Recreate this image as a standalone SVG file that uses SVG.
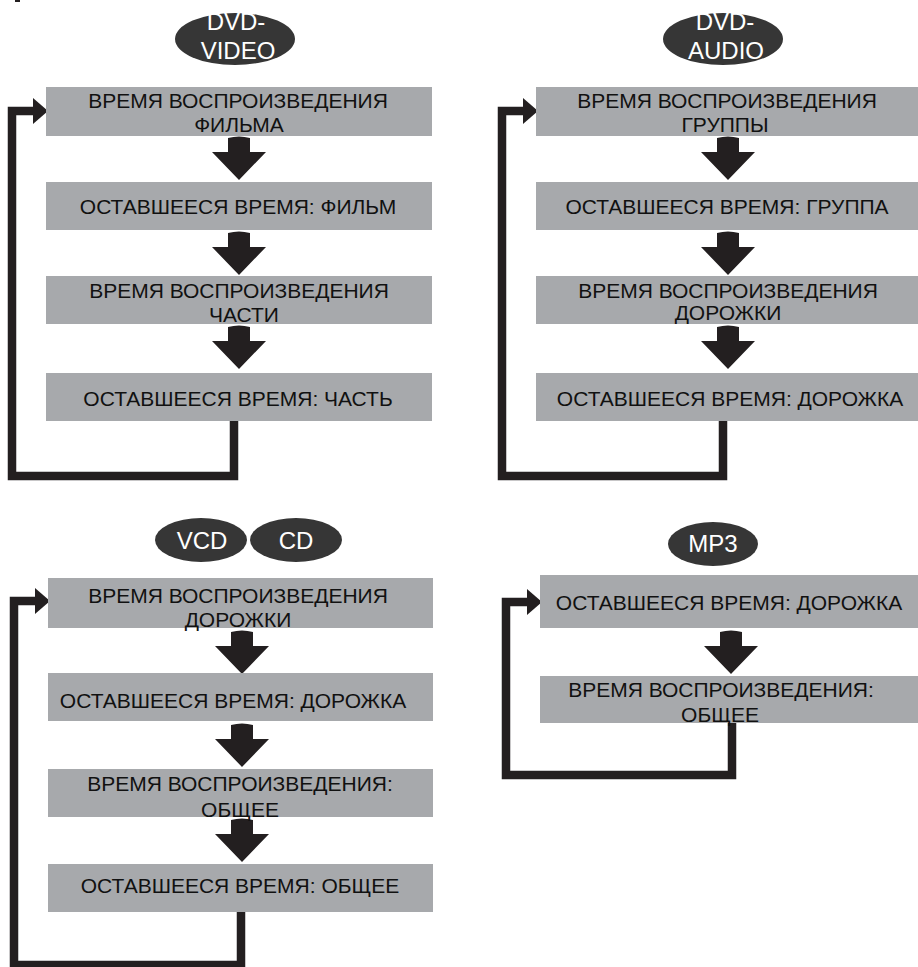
<svg xmlns="http://www.w3.org/2000/svg" width="918" height="967" viewBox="0 0 918 967">
<style>
.box{fill:#a7a9ac}
.t{font-family:"Liberation Sans",Arial,sans-serif;font-size:21px;fill:#111;text-anchor:middle}
.badge{fill:#363636}
.bt{font-family:"Liberation Sans",Arial,sans-serif;font-size:24px;fill:#fff;text-anchor:middle}
.loop{fill:none;stroke:#231f20;stroke-width:8.5;stroke-linejoin:miter}
.ah{fill:#231f20}
</style>
<defs>
<path id="down" d="M-11 0 Q0 -3 11 0 V14 H27 L0 42 L-27 14 H-11 Z"/>
</defs>
<rect x="0" y="0" width="918" height="967" fill="#fff"/>
<rect x="15" y="0" width="5" height="2" fill="#231f20"/>

<g id="connectors">
  <path class="loop" d="M234 421 V476 H12 V111 H35"/>
  <polygon class="ah" points="33,98 48,111 33,124"/>
  <path class="loop" d="M723 421 V476 H502 V111 H525"/>
  <polygon class="ah" points="523,98 538,111 523,124"/>
  <path class="loop" d="M241 912 V965 H14 V601 H37"/>
  <polygon class="ah" points="35,588 50,601 35,614"/>
  <path class="loop" d="M732 718 V775 H506 V602 H529"/>
  <polygon class="ah" points="527,589 542,602 527,615"/>
  <use href="#down" x="239" y="138" class="ah"/>
  <use href="#down" x="239" y="233" class="ah"/>
  <use href="#down" x="239" y="327" class="ah"/>
  <use href="#down" x="728" y="138" class="ah"/>
  <use href="#down" x="728" y="233" class="ah"/>
  <use href="#down" x="728" y="327" class="ah"/>
  <use href="#down" x="242" y="632" class="ah"/>
  <use href="#down" x="242" y="725" class="ah"/>
  <use href="#down" x="242" y="820" class="ah"/>
  <use href="#down" x="731" y="632" class="ah"/>
</g>

<g id="badge-dvd-video">
  <ellipse class="badge" cx="235" cy="39" rx="60" ry="26"/>
  <text class="bt" x="236" y="30">DVD-</text>
  <text class="bt" x="238" y="59">VIDEO</text>
</g>
<g id="badge-dvd-audio">
  <ellipse class="badge" cx="723" cy="39" rx="60" ry="26"/>
  <text class="bt" x="725" y="30">DVD-</text>
  <text class="bt" x="726" y="59">AUDIO</text>
</g>
<g id="badge-vcd">
  <ellipse class="badge" cx="201" cy="540" rx="46" ry="22"/>
  <text class="bt" x="202" y="549">VCD</text>
</g>
<g id="badge-cd">
  <ellipse class="badge" cx="296" cy="540" rx="46" ry="22"/>
  <text class="bt" x="296" y="549">CD</text>
</g>
<g id="badge-mp3">
  <ellipse class="badge" cx="713" cy="544" rx="45" ry="22"/>
  <text class="bt" x="713" y="552">MP3</text>
</g>

<g id="tl1"><rect class="box" x="46" y="87" width="386" height="49"/>
  <text class="t" x="238" y="108">ВРЕМЯ ВОСПРОИЗВЕДЕНИЯ</text>
  <text class="t" x="239" y="132">ФИЛЬМА</text></g>
<g id="tl2"><rect class="box" x="46" y="182" width="386" height="48"/>
  <text class="t" x="238" y="214">ОСТАВШЕЕСЯ ВРЕМЯ: ФИЛЬМ</text></g>
<g id="tl3"><rect class="box" x="46" y="276" width="386" height="48"/>
  <text class="t" x="239" y="298">ВРЕМЯ ВОСПРОИЗВЕДЕНИЯ</text>
  <text class="t" x="244" y="322">ЧАСТИ</text></g>
<g id="tl4"><rect class="box" x="46" y="373" width="386" height="48"/>
  <text class="t" x="238" y="406">ОСТАВШЕЕСЯ ВРЕМЯ: ЧАСТЬ</text></g>

<g id="tr1"><rect class="box" x="536" y="87" width="382" height="49"/>
  <text class="t" x="727" y="108">ВРЕМЯ ВОСПРОИЗВЕДЕНИЯ</text>
  <text class="t" x="725" y="132">ГРУППЫ</text></g>
<g id="tr2"><rect class="box" x="536" y="182" width="382" height="48"/>
  <text class="t" x="727" y="214">ОСТАВШЕЕСЯ ВРЕМЯ: ГРУППА</text></g>
<g id="tr3"><rect class="box" x="536" y="276" width="382" height="48"/>
  <text class="t" x="728" y="298">ВРЕМЯ ВОСПРОИЗВЕДЕНИЯ</text>
  <text class="t" x="728" y="320">ДОРОЖКИ</text></g>
<g id="tr4"><rect class="box" x="536" y="373" width="382" height="48"/>
  <text class="t" x="730" y="406">ОСТАВШЕЕСЯ ВРЕМЯ: ДОРОЖКА</text></g>

<g id="bl1"><rect class="box" x="48" y="578" width="385" height="50"/>
  <text class="t" x="238" y="603">ВРЕМЯ ВОСПРОИЗВЕДЕНИЯ</text>
  <text class="t" x="238" y="627">ДОРОЖКИ</text></g>
<g id="bl2"><rect class="box" x="48" y="673" width="385" height="48"/>
  <text class="t" x="233" y="708">ОСТАВШЕЕСЯ ВРЕМЯ: ДОРОЖКА</text></g>
<g id="bl3"><rect class="box" x="48" y="769" width="385" height="48"/>
  <text class="t" x="240" y="791">ВРЕМЯ ВОСПРОИЗВЕДЕНИЯ:</text>
  <text class="t" x="240" y="817">ОБЩЕЕ</text></g>
<g id="bl4"><rect class="box" x="48" y="864" width="385" height="48"/>
  <text class="t" x="240" y="893">ОСТАВШЕЕСЯ ВРЕМЯ: ОБЩЕЕ</text></g>

<g id="br1"><rect class="box" x="540" y="575" width="378" height="53"/>
  <text class="t" x="729" y="610">ОСТАВШЕЕСЯ ВРЕМЯ: ДОРОЖКА</text></g>
<g id="br2"><rect class="box" x="540" y="676" width="378" height="47"/>
  <text class="t" x="721" y="697">ВРЕМЯ ВОСПРОИЗВЕДЕНИЯ:</text>
  <text class="t" x="720" y="722">ОБЩЕЕ</text></g>
</svg>
